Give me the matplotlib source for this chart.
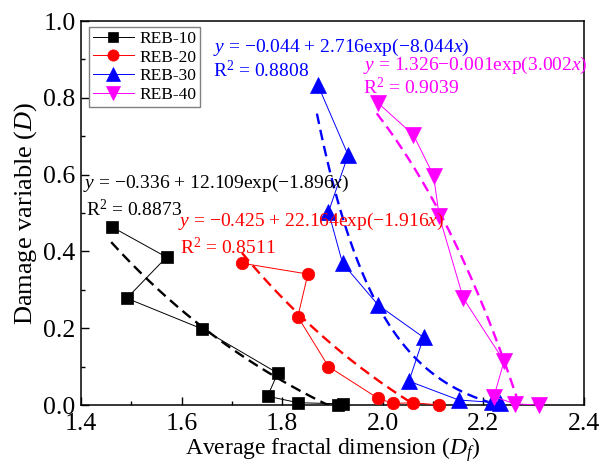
import matplotlib
matplotlib.use('Agg')
import matplotlib.pyplot as plt
import numpy as np

plt.rcParams['font.family'] = 'serif'
plt.rcParams['font.serif'] = ['Liberation Serif', 'DejaVu Serif']
plt.rcParams['mathtext.fontset'] = 'custom'
plt.rcParams['mathtext.rm'] = 'Liberation Serif'
plt.rcParams['mathtext.it'] = 'Liberation Serif:italic'

# average fractal dimension Df and damage variable D for each specimen group
x10 = [1.461, 1.570, 1.491, 1.641, 1.791, 1.771, 1.831, 1.921, 1.910]
d10 = [0.464, 0.385, 0.278, 0.198, 0.083, 0.023, 0.006, 0.003, 0.000]

x20 = [1.721, 1.851, 1.831, 1.892, 1.991, 2.021, 2.061, 2.112]
d20 = [0.369, 0.341, 0.230, 0.100, 0.017, 0.004, 0.006, 0.000]

x30 = [1.871, 1.931, 1.892, 1.920, 1.991, 2.081, 2.052, 2.151, 2.218, 2.232]
d30 = [0.833, 0.651, 0.503, 0.369, 0.260, 0.176, 0.062, 0.013, 0.007, 0.004]

x40 = [1.991, 2.061, 2.101, 2.112, 2.160, 2.241, 2.221, 2.262, 2.311]
d40 = [0.786, 0.703, 0.597, 0.493, 0.278, 0.114, 0.022, 0.003, 0.000]

# exponential fits  D = a + b*exp(k*Df), drawn over [x0, x1]
fit10 = (-0.336, 12.109, -1.896, 1.46, 1.92)
fit20 = (-0.425, 22.164, -1.916, 1.72, 2.07)
fit30 = (-0.044, 2.716e6, -8.044, 1.869, 2.21)
fit40 = (1.326, -0.00145, 3.002, 1.988, 2.27)

fig = plt.figure(figsize=(6.02, 4.66), dpi=100)
ax = fig.add_axes([0.1346, 0.1309, 0.8355, 0.8240])

series = [
    ('REB-10', x10, d10, fit10, 'black', 's', 8.5),
    ('REB-20', x20, d20, fit20, 'red', 'o', 9),
    ('REB-30', x30, d30, fit30, 'blue', '^', 11),
    ('REB-40', x40, d40, fit40, 'magenta', 'v', 11),
]

for name, xs, ds, fit, c, m, ms in series:
    ax.plot(xs, ds, color=c, lw=0.7, marker=m, ms=ms, mec=c, mew=0.5,
            label=name, clip_on=False, zorder=3)
    a, b, k, x0, x1 = fit
    xx = np.linspace(x0, x1, 200)
    ax.plot(xx, a + b * np.exp(k * xx), color=c, lw=1.7,
            dashes=(4.5, 2.5), zorder=2)

ax.set_xlim(1.4, 2.4)
ax.set_ylim(0, 1.0)
ax.set_xticks(np.arange(1.4, 2.41, 0.2))
ax.set_xticks(np.arange(1.5, 2.4, 0.2), minor=True)
ax.set_yticks(np.arange(0, 1.01, 0.2))
ax.set_yticks(np.arange(0.1, 1.0, 0.2), minor=True)
ax.xaxis.set_major_formatter(matplotlib.ticker.FormatStrFormatter('%.1f'))
ax.yaxis.set_major_formatter(matplotlib.ticker.FormatStrFormatter('%.1f'))
ax.tick_params(which='both', direction='in', width=1.0, labelsize=18.5)
ax.tick_params(which='major', length=5.5)
ax.tick_params(which='minor', length=3)
ax.tick_params(axis='x', pad=6)
ax.tick_params(axis='y', pad=4)
for s in ax.spines.values():
    s.set_linewidth(1.1)

ax.set_xlabel('Average fractal dimension ($D_f$)', fontsize=17, labelpad=0)
ax.set_ylabel('Damage variable ($D$)', fontsize=19, labelpad=3)

fs = 14
ax.text(1.662, 0.932, '$y$ = −0.044 + 2.716exp(−8.044$x$)', color='blue',
        fontsize=fs, va='center')
ax.text(1.662, 0.872, 'R$^2$ = 0.8808', color='blue', fontsize=fs, va='center')
ax.text(1.961, 0.885, '$y$ = 1.326−0.001exp(3.002$x$)', color='magenta',
        fontsize=fs, va='center')
ax.text(1.961, 0.826, 'R$^2$ = 0.9039', color='magenta', fontsize=fs, va='center')
ax.text(1.403, 0.578, '$y$ = −0.336 + 12.109exp(−1.896$x$)', color='black',
        fontsize=fs, va='center')
ax.text(1.409, 0.508, 'R$^2$ = 0.8873', color='black', fontsize=fs, va='center')
ax.text(1.593, 0.477, '$y$ = −0.425 + 22.164exp(−1.916$x$)', color='red',
        fontsize=fs, va='center')
ax.text(1.597, 0.411, 'R$^2$ = 0.8511', color='red', fontsize=fs, va='center')

leg = ax.legend(loc='upper left', bbox_to_anchor=(0.016, 0.984), borderaxespad=0,
                fontsize=12.5, fancybox=False, framealpha=1, edgecolor='gray',
                handlelength=2.4, handletextpad=0.3, labelspacing=0.15,
                borderpad=0.2, markerscale=0.9)
leg.get_frame().set_linewidth(1.0)

fig.savefig('out.png', dpi=100)
